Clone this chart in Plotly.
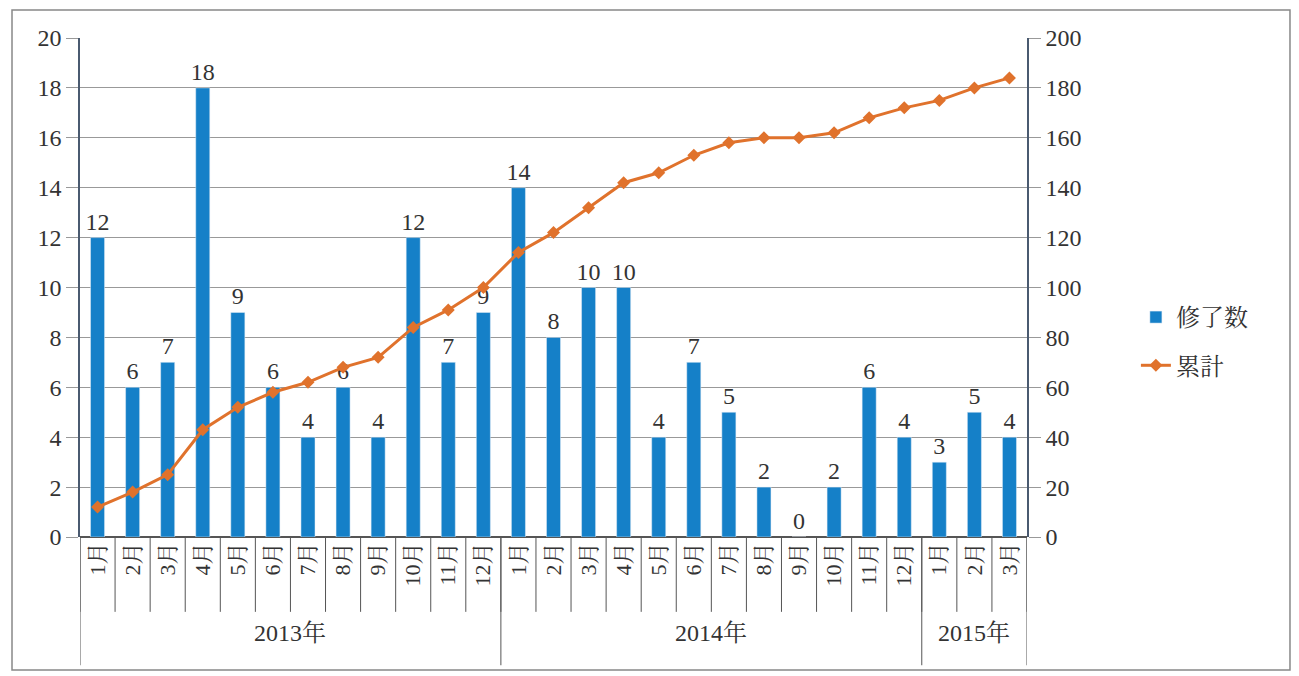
import plotly.graph_objects as go

months = ["1月","2月","3月","4月","5月","6月","7月","8月","9月","10月","11月","12月",
          "1月","2月","3月","4月","5月","6月","7月","8月","9月","10月","11月","12月",
          "1月","2月","3月"]
years = ["2013年", "2014年", "2015年"]
year_counts = [12, 12, 3]
completed = [12,6,7,18,9,6,4,6,4,12,7,9,
             14,8,10,10,4,7,5,2,0,2,6,4,
             3,5,4]
cumulative = [12,18,25,43,52,58,62,68,72,84,91,100,
              114,122,132,142,146,153,158,160,160,162,168,172,
              175,180,184]

FONT = "Liberation Serif, Noto Serif CJK JP, Noto Sans CJK JP, serif"
BLUE = "#1580c8"
ORANGE = "#e0722c"
TXT = "#333333"

x = list(range(len(months)))

fig = go.Figure()
fig.add_trace(go.Bar(
    x=x, y=completed, name="修了数", marker_color=BLUE, width=0.4,
    text=[str(v) for v in completed], textposition="outside",
    textfont=dict(size=24, color=TXT, family=FONT), cliponaxis=False,
    legendgroup="a",
))
fig.add_trace(go.Scatter(
    x=x, y=cumulative, name="累計", yaxis="y2", mode="lines+markers",
    line=dict(color=ORANGE, width=3),
    marker=dict(symbol="diamond", size=10, color=ORANGE),
    legendgroup="b",
))

shapes = []
n = len(months)
for i in range(n + 1):
    shapes.append(dict(type="line", xref="x", yref="paper", x0=i - 0.5, x1=i - 0.5,
                       y0=0, y1=-0.15, line=dict(color="#555555", width=1)))
b = -0.5
bounds = [b]
for c in year_counts:
    b += c
    bounds.append(b)
for bd in bounds:
    shapes.append(dict(type="line", xref="x", yref="paper", x0=bd, x1=bd,
                       y0=0, y1=-0.257, line=dict(color="#555555", width=1)))
shapes.append(dict(type="rect", xref="paper", yref="paper", x0=-0.0718, x1=1.2777,
                   y0=-0.2665, y1=1.056, line=dict(color="#888888", width=1.5)))

annotations = []
start = -0.5
for yl, c in zip(years, year_counts):
    annotations.append(dict(x=start + c / 2, y=-0.222, xref="x", yref="paper",
                            text=yl, showarrow=False,
                            font=dict(size=24, family=FONT, color=TXT)))
    start += c

fig.update_layout(
    width=1291, height=668,
    margin=dict(l=72, r=272, t=30, b=139),
    paper_bgcolor="white", plot_bgcolor="white",
    font=dict(family=FONT, size=24, color=TXT),
    uniformtext=dict(minsize=24, mode="show"),
    xaxis=dict(tickmode="array", tickvals=x, ticktext=months, tickangle=-90,
               range=[-0.5, n - 0.5], showgrid=False, ticks="",
               tickfont=dict(size=22, family=FONT, color=TXT),
               showline=False, zeroline=False),
    yaxis=dict(range=[0, 20], dtick=2, showgrid=True, gridcolor="#999999", gridwidth=1,
               ticks="outside", ticklen=12, tickcolor="#999999",
               showline=True, linecolor="#4a5a70", linewidth=1.5,
               zeroline=True, zerolinecolor="#555555", zerolinewidth=1.5,
               tickfont=dict(size=24, family=FONT)),
    yaxis2=dict(range=[0, 200], dtick=20, overlaying="y", side="right",
                showgrid=False, ticks="outside", ticklen=12, tickcolor="#999999",
                showline=True, linecolor="#4a5a70", linewidth=1.5, zeroline=False,
                tickfont=dict(size=24, family=FONT)),
    legend=dict(x=1.115, y=0.485, xanchor="left", yanchor="top",
                font=dict(size=24, family=FONT, color=TXT),
                bgcolor="rgba(0,0,0,0)", tracegroupgap=14),
    shapes=shapes, annotations=annotations,
    showlegend=True,
)

fig.write_html("out.html")
